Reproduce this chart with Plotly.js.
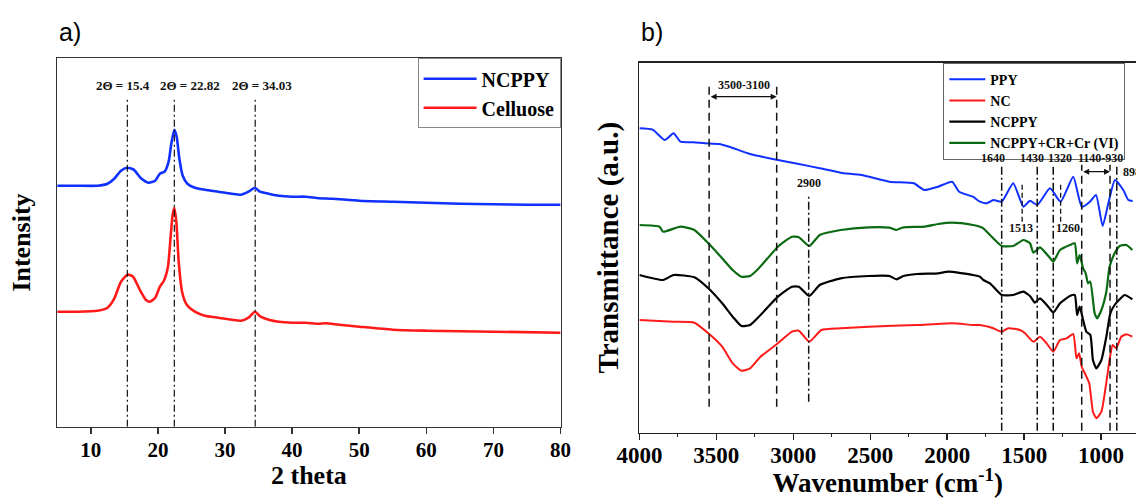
<!DOCTYPE html>
<html><head><meta charset="utf-8">
<script src="https://cdn.plot.ly/plotly-3.0.1.min.js"></script>
<style>html,body{margin:0;padding:0;background:#fff;overflow:hidden}#chart{width:1136px;height:498px}</style>
</head><body><div id="chart"></div>
<script>
// ---------- a) XRD ----------
const ncppyTheta = [5, 8, 11, 12.5, 13.5, 14.5, 15.4, 16.4, 17.4, 18.6, 19.6, 20.3, 21.0, 21.6, 22.0, 22.45, 22.8, 23.2, 23.7, 24.4, 25.5, 27, 29, 31, 32.4, 33.5, 34.45, 35.2, 36.5, 38, 40, 42, 44, 46, 50, 55, 60, 65, 70, 75, 80];
const ncppyIntensity = [241, 241, 241, 243, 248, 256, 259, 257, 249, 244, 246, 253, 255, 265, 283, 297, 290, 268, 251, 243, 239, 237, 235, 233, 232, 235, 239, 235, 233, 231, 230, 230, 228.5, 228, 226, 225, 224, 223, 222.5, 222, 222];
const celluloseTheta = [5, 8, 11, 12.5, 13.5, 14.5, 15.5, 16.3, 17.3, 18.2, 18.8, 19.6, 20.3, 20.9, 21.5, 21.9, 22.2, 22.45, 22.75, 23.1, 23.6, 24.3, 25.5, 27, 29, 31, 32.4, 33.5, 34.45, 35.3, 36.5, 38, 40, 42, 44, 45, 47, 50, 55, 60, 70, 80];
const celluloseIntensity = [115, 115, 116, 119, 128, 145, 152, 150, 137, 127, 125, 129, 140, 146, 160, 190, 212, 219, 205, 165, 135, 122, 115, 111, 109, 107, 106, 109, 115, 110, 107, 105, 104, 104, 103, 103.5, 102, 100, 97, 96, 95, 94];
const xrdPeakLines = [15.45, 22.45, 34.5];
const xrdPeakLabels = ['2Θ = 15.4', '2Θ = 22.82', '2Θ = 34.03'];
const xrdLabelX = [14.74, 24.74, 35.51];
const xrdTicks = [10, 20, 30, 40, 50, 60, 70, 80];

// ---------- b) FTIR ----------
const ppyWn = [4000, 3914, 3835, 3778, 3733, 3650, 3575, 3484, 3416, 3281, 3100, 2964, 2828, 2692, 2557, 2376, 2217, 2149, 2059, 1968, 1923, 1833, 1787, 1742, 1700, 1646, 1571, 1505, 1462, 1415, 1332, 1263, 1181, 1126, 1072, 1033, 990, 953, 910, 856, 823, 795];
const ppyT = [304.4, 303, 292.7, 299.4, 291, 290.5, 289.4, 288.7, 286, 278.7, 272.7, 268.7, 264.4, 260, 257.7, 251, 249.4, 242.7, 246, 251, 241, 236, 231, 229.4, 232.7, 231, 249.4, 226, 232, 227.7, 244.4, 231, 256, 226, 231, 237.7, 206.7, 229.4, 252.7, 242.7, 232.7, 231.7];
const ncWn = [4000, 3778, 3643, 3552, 3462, 3394, 3337, 3281, 3213, 3100, 3009, 2964, 2896, 2817, 2692, 2511, 2195, 1968, 1833, 1787, 1700, 1646, 1603, 1527, 1494, 1440, 1397, 1354, 1311, 1267, 1224, 1181, 1160, 1143, 1126, 1100, 1077, 1053, 1031, 998, 970, 945, 925, 902, 869, 836, 797];
const ncT = [112.7, 111, 110, 99.4, 86, 69.4, 62, 64.4, 76, 89.4, 101, 102, 91, 102.7, 104.4, 106, 107.7, 109.4, 107.7, 107.7, 104.4, 101, 104.4, 102.7, 99.4, 91, 96, 89.4, 81, 92.7, 94.4, 98.7, 74.4, 79.4, 66, 57.7, 49.4, 21, 14.4, 21, 46, 72.7, 87.7, 84.4, 96, 98.4, 96];
const ncppyWn = [4000, 3846, 3778, 3643, 3552, 3462, 3394, 3337, 3281, 3213, 3100, 3009, 2964, 2896, 2828, 2692, 2511, 2376, 2330, 2285, 2195, 2059, 1991, 1833, 1787, 1765, 1722, 1646, 1571, 1505, 1462, 1430, 1397, 1343, 1311, 1267, 1203, 1171, 1156, 1139, 1117, 1096, 1070, 1053, 1031, 998, 966, 940, 912, 879, 847, 797];
const ncppyT = [157.7, 152.7, 157.7, 155.4, 144.4, 129.4, 116, 106.7, 107.7, 117.7, 136, 146, 146, 136.7, 147.7, 154.4, 156.7, 156.7, 153.4, 156.7, 158.7, 159.4, 161, 157.7, 156, 152.7, 149.4, 137.7, 137.7, 141, 136.7, 130, 134.4, 126, 120, 129.4, 136.7, 137.7, 117.7, 126, 112.7, 101, 97.7, 72.7, 64.4, 72.7, 96, 119.4, 127.7, 133.4, 137.7, 133.4];
const adsWn = [4000, 3869, 3846, 3733, 3643, 3552, 3462, 3394, 3337, 3281, 3235, 3167, 3100, 3009, 2964, 2896, 2828, 2692, 2511, 2376, 2330, 2285, 2149, 2059, 1968, 1833, 1787, 1765, 1722, 1646, 1571, 1505, 1462, 1440, 1397, 1343, 1311, 1267, 1203, 1171, 1156, 1139, 1117, 1100, 1085, 1070, 1042, 1026, 998, 966, 945, 912, 879, 836, 797];
const adsT = [207.7, 206, 201, 206, 202.7, 189.4, 174.4, 162.7, 156, 156.7, 162.7, 174.4, 186, 196, 195.4, 186.7, 197.7, 202.7, 205.4, 205, 202.7, 205.4, 206, 208.7, 210, 207.7, 206, 204.4, 197.7, 186.7, 186.7, 192.7, 189.4, 180, 185.4, 176.7, 171, 182.7, 187.7, 189.4, 169.4, 177.7, 164.4, 159.4, 149.4, 151, 119.4, 114.4, 122.7, 141, 166, 179.4, 186.7, 187.7, 182.7];
const ftirTicks = [4000, 3500, 3000, 2500, 2000, 1500, 1000];

// band marker lines and labels
const bandDashedLong = [3547, 3108];          // 3500-3100 range
const bandDashedRange = [1126, 942];          // 1140-930 range
const bandDashDot = [1646, 1415, 1311, 898];
const band2900 = [2900];
const bandShort = [1513, 1263];
const bandLabelText = ['3500-3100', '2900', '1640', '1430', '1320', '1140-930', '1513', '1260'];
const bandLabelWn = [3320, 2895, 1700, 1451, 1264, 1007, 1520, 1215];
const bandLabelT = [347.7, 250, 275, 275, 275, 275, 204.4, 204.4];

const serif = 'Liberation Serif';
const sans = 'Liberation Sans';
const W = 1136, H = 498;
const px = v => v / W, py = v => 1 - v / H;

const traces = [
  {x: ncppyTheta, y: ncppyIntensity, name: 'NCPPY', type: 'scatter', mode: 'lines',
   line: {color: '#1030ff', width: 2.6, shape: 'spline', smoothing: 0.6}, xaxis: 'x', yaxis: 'y', legend: 'legend'},
  {x: celluloseTheta, y: celluloseIntensity, name: 'Celluose', type: 'scatter', mode: 'lines',
   line: {color: '#ff1a1a', width: 2.6, shape: 'spline', smoothing: 0.6}, xaxis: 'x', yaxis: 'y', legend: 'legend'},
  {x: ppyWn, y: ppyT, name: 'PPY', type: 'scatter', mode: 'lines',
   line: {color: '#1030ff', width: 2, shape: 'spline', smoothing: 0.5}, xaxis: 'x2', yaxis: 'y2', legend: 'legend2'},
  {x: ncWn, y: ncT, name: 'NC', type: 'scatter', mode: 'lines',
   line: {color: '#ff1a1a', width: 2, shape: 'spline', smoothing: 0.5}, xaxis: 'x2', yaxis: 'y2', legend: 'legend2'},
  {x: ncppyWn, y: ncppyT, name: 'NCPPY', type: 'scatter', mode: 'lines',
   line: {color: '#000000', width: 2.2, shape: 'spline', smoothing: 0.5}, xaxis: 'x2', yaxis: 'y2', legend: 'legend2'},
  {x: adsWn, y: adsT, name: 'NCPPY+CR+Cr (VI)', type: 'scatter', mode: 'lines',
   line: {color: '#0b6b12', width: 2.2, shape: 'spline', smoothing: 0.5}, xaxis: 'x2', yaxis: 'y2', legend: 'legend2'}
];

const shapes = [];
xrdPeakLines.forEach(v => shapes.push({type: 'line', xref: 'x', yref: 'y', x0: v, x1: v, y0: 0, y1: 330,
  line: {color: '#111', width: 1.2, dash: '7px,3px,2px,3px'}}));
bandDashedLong.forEach(v => shapes.push({type: 'line', xref: 'x2', yref: 'y2', x0: v, x1: v, y0: 26, y1: 348,
  line: {color: '#111', width: 1.5, dash: '8px,5px'}}));
bandDashedRange.forEach(v => shapes.push({type: 'line', xref: 'x2', yref: 'y2', x0: v, x1: v, y0: 2, y1: 268,
  line: {color: '#111', width: 1.5, dash: '8px,5px'}}));
bandDashDot.forEach(v => shapes.push({type: 'line', xref: 'x2', yref: 'y2', x0: v, x1: v, y0: 2, y1: 268,
  line: {color: '#111', width: 1.5, dash: '8px,3px,2px,3px'}}));
band2900.forEach(v => shapes.push({type: 'line', xref: 'x2', yref: 'y2', x0: v, x1: v, y0: 31, y1: 238,
  line: {color: '#111', width: 1.5, dash: '8px,3px,2px,3px'}}));
bandShort.forEach(v => shapes.push({type: 'line', xref: 'x2', yref: 'y2', x0: v, x1: v, y0: 211, y1: 250,
  line: {color: '#111', width: 1.3, dash: '5px,3px'}}));

const annotations = [];
xrdPeakLabels.forEach((t, i) => annotations.push({xref: 'x', yref: 'y', x: xrdLabelX[i], y: 340.7, text: t,
  showarrow: false, font: {family: serif, size: 13, weight: 'bold', color: '#111'}}));
bandLabelText.forEach((t, i) => annotations.push({xref: 'x2', yref: 'y2', x: bandLabelWn[i], y: bandLabelT[i], text: t,
  showarrow: false, font: {family: serif, size: 12, weight: 'bold', color: '#111'}}));
annotations.push({xref: 'x2', yref: 'y2', x: 871, y: 261, text: '898', xanchor: 'left', showarrow: false,
  font: {family: serif, size: 12, weight: 'bold', color: '#111'}});
// double arrows for ranges
[[bandDashedLong, 336], [bandDashedRange, 261]].forEach(([pair, yv]) => annotations.push({
  xref: 'x2', yref: 'y2', axref: 'x2', ayref: 'y2', x: pair[1], y: yv, ax: pair[0], ay: yv, text: '',
  showarrow: true, arrowhead: 2, startarrowhead: 2, arrowside: 'end+start', arrowsize: 1, arrowwidth: 1.2,
  arrowcolor: '#111', standoff: 0, startstandoff: 0}));
// panel letters
annotations.push({xref: 'paper', yref: 'paper', x: px(70), y: py(32), xanchor: 'center', yanchor: 'middle',
  text: 'a)', showarrow: false, font: {family: sans, size: 25, color: '#000'}});
annotations.push({xref: 'paper', yref: 'paper', x: px(652), y: py(32), xanchor: 'center', yanchor: 'middle',
  text: 'b)', showarrow: false, font: {family: sans, size: 25, color: '#000'}});

const axisFont = (s) => ({family: serif, size: s, weight: 'bold', color: '#000'});

const layout = {
  width: W, height: H, margin: {l: 0, r: 0, t: 0, b: 0}, paper_bgcolor: '#fff', plot_bgcolor: '#fff',
  showlegend: true,
  xaxis: {domain: [px(57.2), px(560.6)], range: [5, 80], tickvals: xrdTicks, ticktext: xrdTicks.map(String),
    ticks: 'outside', ticklen: 6, tickwidth: 1.5, tickcolor: '#333', showline: true, linecolor: '#333',
    linewidth: 1.6, mirror: true, showgrid: false, zeroline: false, tickfont: axisFont(21), ticklabelstandoff: -3,
    title: {text: '2 theta', font: axisFont(26), standoff: 2}},
  yaxis: {domain: [py(426.7), py(58.3)], range: [0, 368.4], showticklabels: false, ticks: '',
    showline: true, linecolor: '#333', linewidth: 1.6, mirror: true, showgrid: false, zeroline: false,
    title: {text: 'Intensity', font: axisFont(26), standoff: 17}},
  xaxis2: {domain: [px(639.4), 1], range: [4000, 4000 - (W - 639.4) / 0.1539], tickvals: ftirTicks,
    ticktext: ftirTicks.map(String), ticks: 'outside', ticklen: 6, tickwidth: 1.5, tickcolor: '#222',
    minor: {dtick: 250, tick0: 0, ticks: 'outside', ticklen: 3, tickwidth: 1.2, tickcolor: '#222'},
    showline: true, linecolor: '#222', linewidth: 1.6, mirror: true, showgrid: false, zeroline: false,
    tickfont: axisFont(23), ticklabelstandoff: -5,
    title: {text: 'Wavenumber (cm<sup>-1</sup>)', font: axisFont(27), standoff: 24}},
  yaxis2: {domain: [py(432.7), py(62.7)], range: [0, 370], showticklabels: false, ticks: '',
    showline: true, linecolor: '#222', linewidth: 1.6, mirror: false, showgrid: false, zeroline: false,
    title: {text: 'Transmittance (a.u.)', font: axisFont(29), standoff: 10}},
  legend: {x: px(560.6), xanchor: 'right', y: py(58.3), yanchor: 'top', bgcolor: '#fff', bordercolor: '#888',
    borderwidth: 1, itemwidth: 53, font: axisFont(20), tracegroupgap: 0},
  legend2: {x: px(943.3), xanchor: 'left', y: py(62.7), yanchor: 'top', bgcolor: '#fff', bordercolor: '#666',
    borderwidth: 1, itemwidth: 36, font: axisFont(14), tracegroupgap: 0},
  shapes: shapes, annotations: annotations
};
layout.xaxis.anchor = 'y';
layout.yaxis.anchor = 'x';
layout.xaxis2.anchor = 'y2';
layout.yaxis2.anchor = 'x2';

Plotly.newPlot('chart', traces, layout, {displayModeBar: false, staticPlot: true});
</script>
</body></html>
